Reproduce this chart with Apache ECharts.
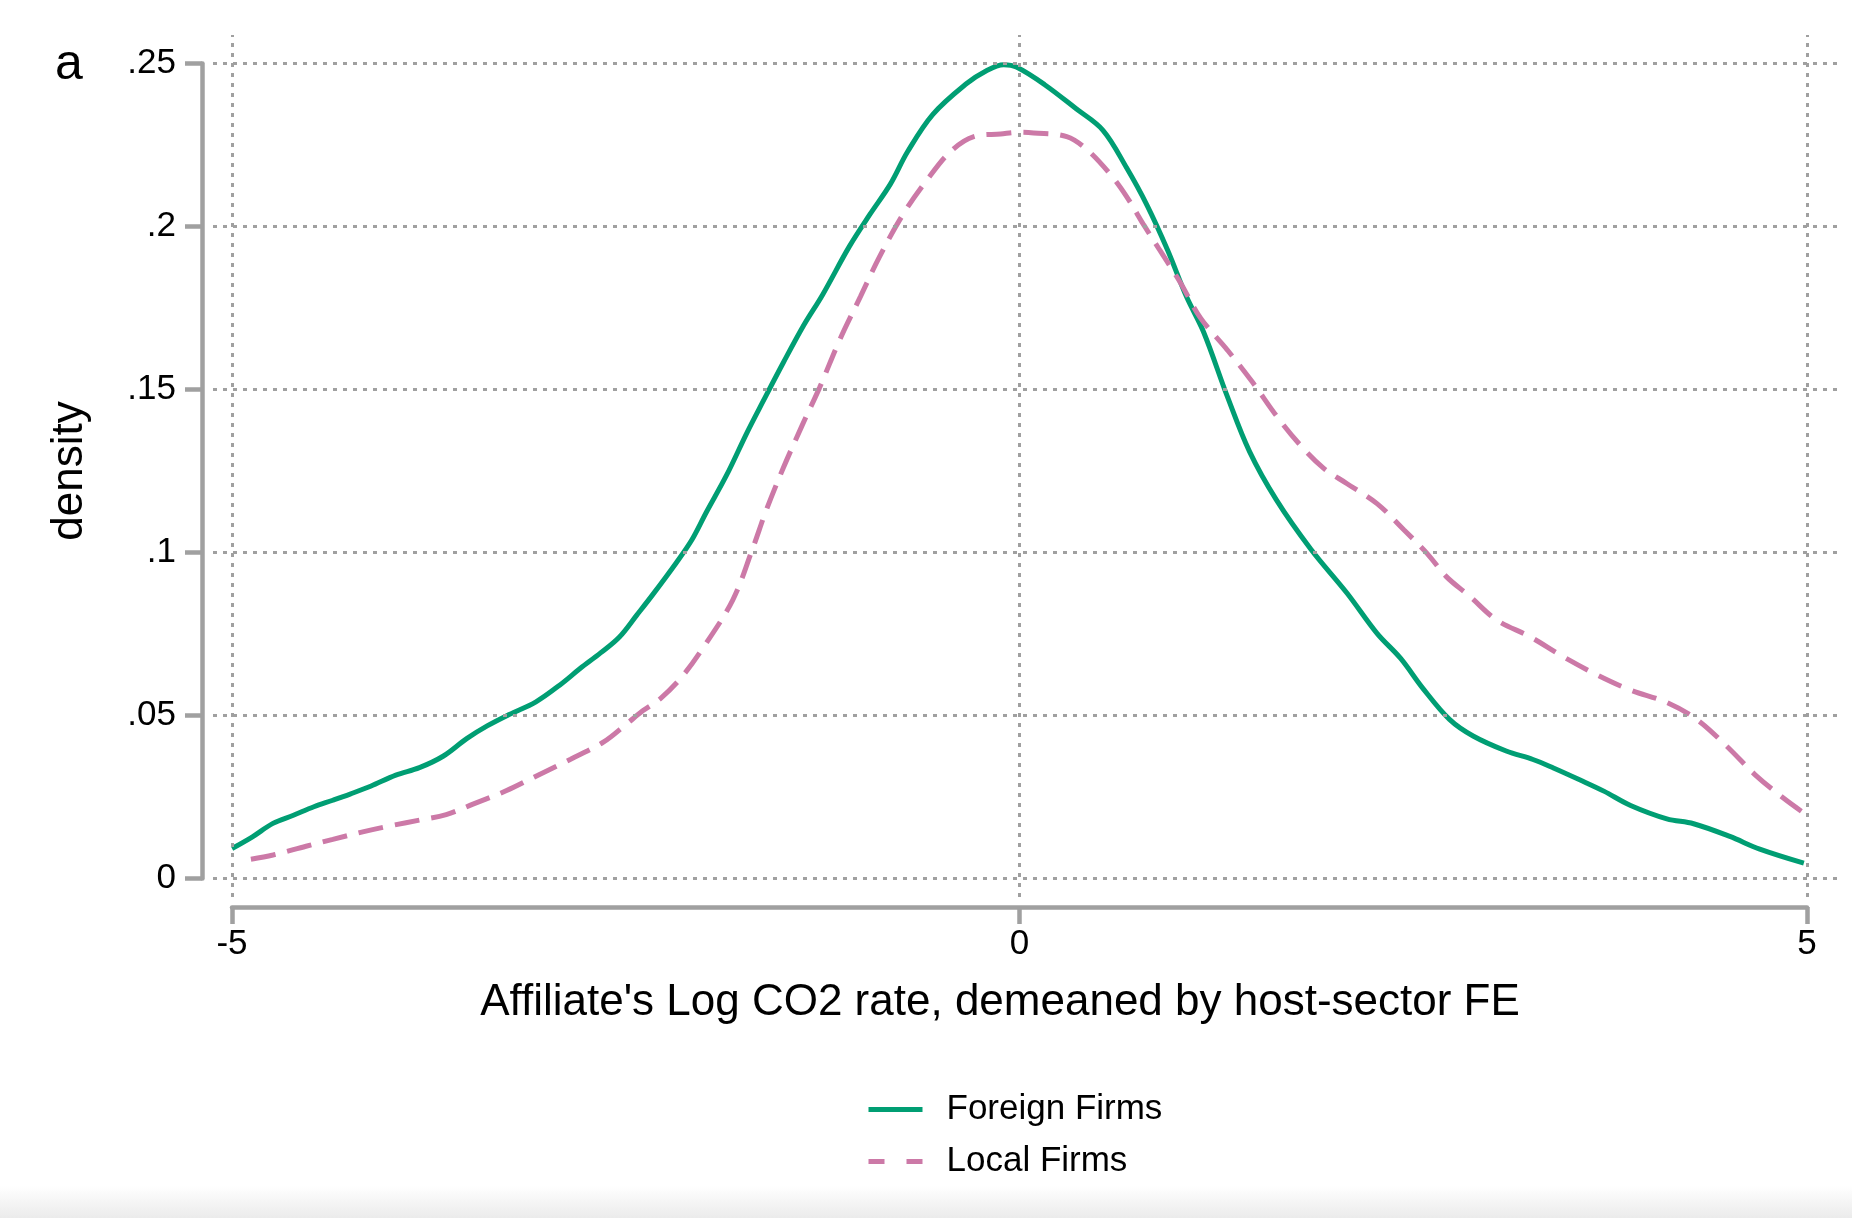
<!DOCTYPE html>
<html><head><meta charset="utf-8">
<script src="https://cdn.jsdelivr.net/npm/echarts@6/dist/echarts.min.js"></script>
<style>html,body{margin:0;padding:0;background:#fff}#c{width:1852px;height:1218px}</style>
</head><body><div id="c"></div>
<script>
// ---- data ----
const foreignX = [-5.00,-4.87,-4.74,-4.61,-4.48,-4.36,-4.25,-4.12,-3.96,-3.81,-3.66,-3.51,-3.38,-3.24,-3.07,-2.92,-2.79,-2.66,-2.54,-2.43,-2.33,-2.18,-2.08,-1.99,-1.86,-1.73,-1.63,-1.50,-1.37,-1.25,-1.08,-0.95,-0.82,-0.71,-0.55,-0.34,-0.21,-0.10,-0.02,0.16,0.36,0.53,0.68,0.81,0.94,1.06,1.17,1.32,1.46,1.63,1.85,2.08,2.27,2.42,2.56,2.73,2.88,3.09,3.26,3.39,3.56,3.71,3.88,4.11,4.28,4.51,4.70,4.98];
const foreignY = [0.0092,0.0128,0.0169,0.0194,0.0220,0.0240,0.0259,0.0283,0.0317,0.0340,0.0375,0.0429,0.0468,0.0503,0.0542,0.0593,0.0644,0.0692,0.0741,0.0808,0.0870,0.0968,0.1039,0.1122,0.1237,0.1368,0.1462,0.1582,0.1697,0.1791,0.1939,0.2037,0.2130,0.2230,0.2344,0.2437,0.2478,0.2496,0.2489,0.2435,0.2361,0.2295,0.2180,0.2065,0.1928,0.1785,0.1675,0.1478,0.1310,0.1162,0.1010,0.0875,0.0752,0.0675,0.0584,0.0488,0.0437,0.0391,0.0365,0.0339,0.0302,0.0268,0.0224,0.0183,0.0168,0.0129,0.0090,0.0047];
const localX = [-4.88,-4.74,-4.53,-4.36,-4.17,-3.98,-3.81,-3.64,-3.47,-3.26,-3.07,-2.85,-2.64,-2.49,-2.39,-2.28,-2.15,-2.02,-1.82,-1.69,-1.61,-1.50,-1.38,-1.27,-1.14,-1.01,-0.89,-0.74,-0.59,-0.44,-0.29,-0.12,0.00,0.09,0.30,0.43,0.58,0.68,0.79,0.89,1.02,1.15,1.32,1.48,1.63,1.78,1.93,2.08,2.27,2.44,2.59,2.71,2.86,3.03,3.24,3.45,3.67,3.88,4.11,4.30,4.49,4.68,4.85,4.98];
const localY = [0.0059,0.0072,0.0099,0.0120,0.0143,0.0163,0.0179,0.0196,0.0228,0.0269,0.0314,0.0366,0.0419,0.0476,0.0515,0.0552,0.0615,0.0700,0.0855,0.1018,0.1127,0.1259,0.1390,0.1505,0.1654,0.1785,0.1906,0.2037,0.2141,0.2229,0.2276,0.2284,0.2289,0.2287,0.2276,0.2235,0.2158,0.2092,0.2004,0.1928,0.1829,0.1719,0.1621,0.1522,0.1420,0.1331,0.1259,0.1211,0.1150,0.1070,0.0996,0.0926,0.0865,0.0793,0.0742,0.0681,0.0624,0.0578,0.0540,0.0488,0.0406,0.0314,0.0247,0.0201];
const seriesNames = ['Foreign Firms', 'Local Firms'];
const xTicks = [-5, 0, 5];
const xTickLabels = ['-5', '0', '5'];
const yTicks = [0, 0.05, 0.1, 0.15, 0.2, 0.25];
const yTickLabels = ['0', '.05', '.1', '.15', '.2', '.25'];
const xTitle = "Affiliate's Log CO2 rate, demeaned by host-sector FE";
const yTitle = 'density';
const panelLabel = 'a';

// ---- layout ----
const FONT = "'Liberation Sans', Arial, Helvetica, sans-serif";
const GRAY = '#a0a0a0';
const GREEN = '#009E73', PINK = '#CC79A7';
const A = { left: 232, top: 63.5, width: 1575, height: 815 };        // data region (-5..5, 0..0.25)
const B = { left: 213, top: 35, width: 1625, height: 862 };          // dotted grid region
const xMin = xTicks[0], xMax = xTicks[xTicks.length - 1];
const yMin = yTicks[0], yMax = yTicks[yTicks.length - 1];
const pxX = A.width / (xMax - xMin), pxY = A.height / (yMax - yMin);
const bxMin = xMin - (A.left - B.left) / pxX;
const bxMax = xMax + ((B.left + B.width) - (A.left + A.width)) / pxX;
const byMax = yMax + (A.top - B.top) / pxY;
const byMin = yMin - ((B.top + B.height) - (A.top + A.height)) / pxY;

const zip = (xs, ys) => xs.map((x, i) => [x, ys[i]]);

const chart = echarts.init(document.getElementById('c'), null, { renderer: 'canvas' });
chart.setOption({
  animation: false,
  backgroundColor: '#fff',
  textStyle: { fontFamily: FONT },
  grid: [
    { left: A.left, top: A.top, width: A.width, height: A.height, containLabel: false },
    { left: B.left, top: B.top, width: B.width, height: B.height, containLabel: false }
  ],
  xAxis: [
    {
      type: 'value', gridIndex: 0, min: xMin, max: xMax, interval: 5, offset: 28.5,
      axisLine: { show: true, onZero: false, lineStyle: { color: GRAY, width: 4.5 } },
      axisTick: { show: true, length: 17, lineStyle: { color: GRAY, width: 4.5 } },
      axisLabel: { fontSize: 35, color: '#000', margin: 20, fontFamily: FONT,
        formatter: (v) => xTickLabels[xTicks.indexOf(v)] },
      splitLine: { show: false },
      name: xTitle, nameLocation: 'middle', nameGap: 73.5,
      nameTextStyle: { fontSize: 44, color: '#000', fontFamily: FONT, padding: [0, 39, 0, 0] }
    },
    { type: 'value', gridIndex: 1, min: bxMin, max: bxMax, show: false, splitLine: { show: false } }
  ],
  yAxis: [
    {
      type: 'value', gridIndex: 0, min: yMin, max: yMax, interval: 0.05, offset: 30,
      axisLine: { show: true, onZero: false, lineStyle: { color: GRAY, width: 4.5 } },
      axisTick: { show: true, length: 17, lineStyle: { color: GRAY, width: 4.5 } },
      axisLabel: { fontSize: 35, color: '#000', margin: 26, fontFamily: FONT,
        formatter: (v, i) => yTickLabels[i] },
      splitLine: { show: false },
      name: yTitle, nameLocation: 'middle', nameGap: 110, nameRotate: 90,
      nameTextStyle: { fontSize: 44, color: '#000', fontFamily: FONT }
    },
    { type: 'value', gridIndex: 1, min: byMin, max: byMax, show: false, splitLine: { show: false } }
  ],
  legend: {
    orient: 'vertical', left: 861, top: 1087, itemWidth: 54, itemHeight: 35, itemGap: 17,
    selectedMode: false,
    itemStyle: { opacity: 0 },
    data: [
      { name: seriesNames[0], lineStyle: { width: 5, color: GREEN } },
      { name: seriesNames[1], lineStyle: { width: 5, color: PINK, type: [16, 22] } }
    ],
    textStyle: { fontSize: 35, color: '#000', fontFamily: FONT, padding: [0, 0, 0, 19] }
  },
  graphic: [
    { type: 'text', left: 55, top: 40, style: { text: panelLabel, fontSize: 50, fill: '#000', fontFamily: FONT } },
    { type: 'rect', shape: { x: 0, y: 1186, width: 1852, height: 32 }, silent: true, z: -10,
      style: { fill: new echarts.graphic.LinearGradient(0, 0, 0, 1, [{ offset: 0, color: 'rgba(235,235,235,0)' }, { offset: 1, color: 'rgba(235,235,235,1)' }]) } }
  ],
  series: [
    {
      name: '__grid', type: 'line', xAxisIndex: 1, yAxisIndex: 1, data: [], silent: true, z: 1,
      markLine: {
        silent: true, symbol: ['none', 'none'], label: { show: false }, animation: false,
        lineStyle: { type: [4, 6], width: 3, color: GRAY },
        emphasis: { disabled: true },
        data: xTicks.map(v => ({ xAxis: v })).concat(yTicks.map(v => ({ yAxis: v })))
      }
    },
    {
      name: seriesNames[0], type: 'line', xAxisIndex: 0, yAxisIndex: 0, data: zip(foreignX, foreignY),
      symbol: 'none', smooth: 0.35, z: 3, clip: false,
      lineStyle: { color: GREEN, width: 5 }, itemStyle: { color: GREEN }
    },
    {
      name: seriesNames[1], type: 'line', xAxisIndex: 0, yAxisIndex: 0, data: zip(localX, localY),
      symbol: 'none', smooth: 0.35, z: 3, clip: false,
      lineStyle: { color: PINK, width: 5, type: [25, 12] }, itemStyle: { color: PINK }
    }
  ]
});
</script>
</body></html>
